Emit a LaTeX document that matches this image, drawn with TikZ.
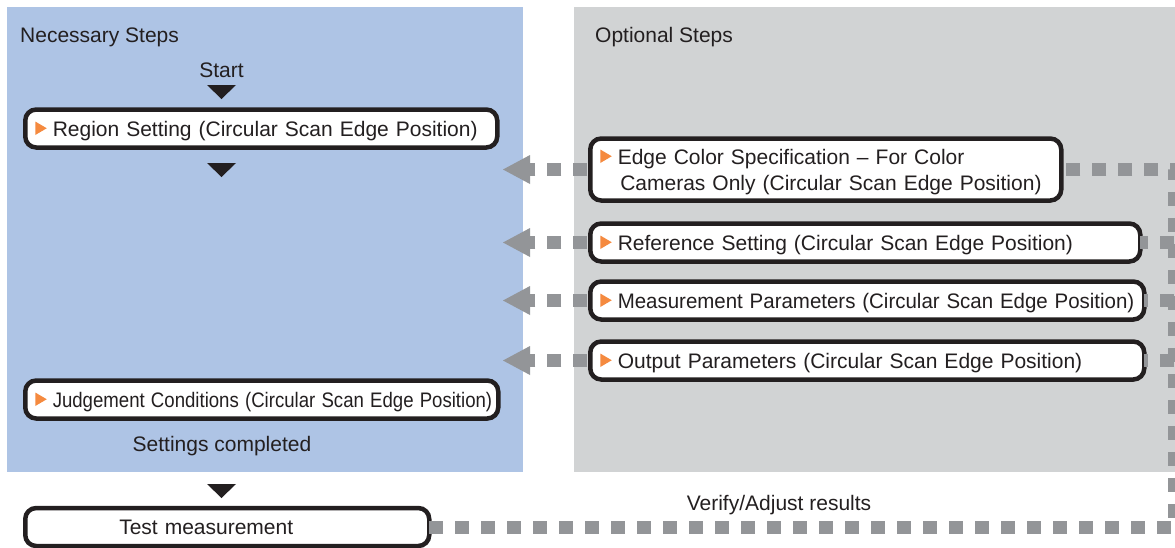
\documentclass[tikz,border=0pt]{standalone}
\usepackage{fontspec}
\setmainfont{Liberation Sans}
\usepackage{graphicx}
\usepackage{xcolor}
\usetikzlibrary{arrows.meta, positioning, calc}

\definecolor{needblue}{HTML}{AEC4E5}
\definecolor{optgray}{HTML}{D1D3D4}
\definecolor{flowgray}{HTML}{939598}
\definecolor{steporange}{HTML}{F58A3F}
\definecolor{inkblack}{HTML}{231F20}

\newcommand{\boxfont}{\fontsize{21}{26}\selectfont}
\newcommand{\steptri}{\tikz[baseline=-1pt, sharp corners]\fill[steporange] (0pt,0pt) -- (0pt,13.5pt) -- (11.5pt,6.75pt) -- cycle;\hspace{6pt}}

\begin{document}
\begin{tikzpicture}[x=1pt, y=-1pt,
  stepbox/.style={draw=inkblack, line width=4.5pt, rounded corners=11pt, fill=white,
    outer sep=0pt, inner xsep=10pt, inner ysep=0pt, minimum height=38pt,
    text height=18pt, text depth=3pt,
    anchor=west, align=left, text=inkblack, font=\boxfont},
  lbl/.style={text=inkblack, inner sep=0pt, font=\boxfont},
  flowline/.style={draw=flowgray, line width=13pt, dash pattern=on 14pt off 12pt},
  backarrow/.style={flowline, dash phase=23pt,
    -{Triangle[length=27pt, width=29pt, line width=0pt]}}
]
\useasboundingbox (0,0) rectangle (1175,547);

% panels
\fill[needblue] (7,7) rectangle (523,472);
\fill[optgray] (574,7) rectangle (1180,472);

\node[lbl, anchor=base west] (need) at (20,42) {Necessary Steps};
\node[lbl, anchor=base west] (opt) at (595,42) {Optional Steps};
\node[lbl, anchor=base] (start) at (221.5,77) {Start};

% necessary steps
\node[stepbox, text width=452pt] (region) at (25.25,128.5)
  {\steptri Region Setting (Circular Scan Edge Position)};
\node[stepbox, text width=453pt] (judge) at (25.25,399.5)
  {\steptri\scalebox{0.886}[1]{Judgement Conditions (Circular Scan Edge Position)}};
\node[lbl, anchor=base] (done) at (222,451) {Settings completed};
\node[stepbox, text width=384pt] (test) at (25.25,527)
  {\hspace*{84pt}Test measurement};
\node[lbl, anchor=base] (verify) at (779,510) {Verify/Adjust results};

% optional steps
\node[stepbox, minimum height=62pt, text width=451pt, text height=17.5pt, text depth=28.5pt]
  (edgecol) at (590.25,169.5)
  {\steptri Edge Color Specification -- For Color\\\hspace*{20pt}Cameras Only (Circular Scan Edge Position)};
\node[stepbox, text width=530pt] (refset) at (590.25,242.5)
  {\mbox{\steptri Reference Setting (Circular Scan Edge Position)}};
\node[stepbox, text width=534pt] (meas) at (590.25,300.5)
  {\mbox{\steptri\scalebox{0.975}[1]{Measurement Parameters (Circular Scan Edge Position)}}};
\node[stepbox, text width=534pt] (outp) at (590.25,360.5)
  {\mbox{\steptri Output Parameters (Circular Scan Edge Position)}};

% flow triangles
\coordinate (t1) at (221.5,85);
\coordinate (t2) at (221.5,163);
\coordinate (t3) at (221.5,484);
\foreach \t in {t1,t2,t3}
  \fill[inkblack] (\t) ++(-14.5,0) -- ++(29,0) -- ++(-14.5,14) -- cycle;

% back into the necessary steps
\coordinate (back) at (503,0);
\foreach \s in {edgecol,refset,meas,outp}
  \draw[backarrow] (\s.west) -- (back |- \s.west);

% verify / adjust loop
\coordinate (loopx) at (1174,0);
\draw[flowline] (test.east) -- (test.east -| loopx) |- (edgecol.east);
\foreach \s in {refset,meas,outp}
  \draw[flowline] (\s.east -| loopx) -- (\s.east);
\end{tikzpicture}
\end{document}
